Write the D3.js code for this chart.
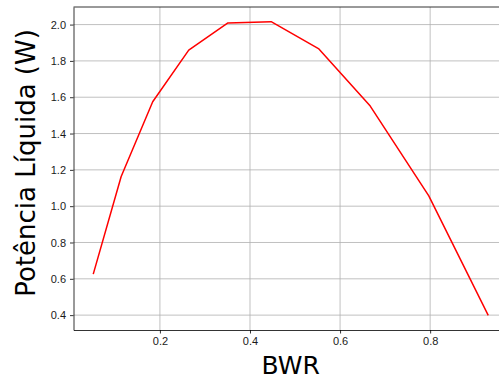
<!DOCTYPE html>
<html>
<head>
<meta charset="utf-8">
<script src="https://cdn.jsdelivr.net/npm/d3@7"></script>
<style>
  html, body { margin: 0; padding: 0; background: #fff; }
  svg { display: block; font-family: "DejaVu Sans", sans-serif; }
  .axis text { font-size: 11px; fill: #1a1a1a; }
  .axis path, .axis line { stroke: #000; stroke-width: 0.8; }
</style>
</head>
<body>
<div id="chart"></div>
<script>
// BWR vs net power
const bwr   = [0.052, 0.114, 0.184, 0.264, 0.351, 0.447, 0.552, 0.667, 0.797, 0.929];
const power = [0.626, 1.163, 1.575, 1.859, 2.009, 2.016, 1.868, 1.551, 1.057, 0.399];
const xTicks = [0.2, 0.4, 0.6, 0.8];
const yTicks = [0.4, 0.6, 0.8, 1.0, 1.2, 1.4, 1.6, 1.8, 2.0];

const W = 499, H = 379;
// plot area runs past the right edge of the window, as in the reference
const m = { l: 73.5, t: 7, r: 508, b: 330 };

const pad = ([a, b]) => [a - (b - a) * 0.05, b + (b - a) * 0.05];
const x = d3.scaleLinear().domain(pad(d3.extent(bwr))).range([m.l, m.r]);
const y = d3.scaleLinear().domain(pad(d3.extent(power))).range([m.b, m.t]);

const svg = d3.select('#chart').append('svg').attr('width', W).attr('height', H);

// grid
svg.append('g').selectAll('line').data(xTicks).join('line')
  .attr('x1', d => x(d)).attr('x2', d => x(d)).attr('y1', m.t).attr('y2', m.b)
  .attr('stroke', '#b0b0b0').attr('stroke-width', 0.8);
svg.append('g').selectAll('line').data(yTicks).join('line')
  .attr('x1', m.l).attr('x2', m.r).attr('y1', d => y(d)).attr('y2', d => y(d))
  .attr('stroke', '#b0b0b0').attr('stroke-width', 0.8);

// data line
svg.append('path').datum(bwr.map((v, i) => [v, power[i]]))
  .attr('fill', 'none').attr('stroke', '#ff0000').attr('stroke-width', 1.5)
  .attr('stroke-linejoin', 'round')
  .attr('d', d3.line().x(d => x(d[0])).y(d => y(d[1])));

// axes
svg.append('g').attr('class', 'axis').attr('transform', `translate(0,${m.b})`)
  .call(d3.axisBottom(x).tickValues(xTicks).tickFormat(d3.format('.1f')).tickSize(3.5).tickSizeOuter(0).tickPadding(4));
svg.append('g').attr('class', 'axis').attr('transform', `translate(${m.l},0)`)
  .call(d3.axisLeft(y).tickValues(yTicks).tickFormat(d3.format('.1f')).tickSize(3.5).tickSizeOuter(0).tickPadding(4));
// top/right spines
svg.append('line').attr('x1', m.l).attr('x2', m.r).attr('y1', m.t).attr('y2', m.t)
  .attr('stroke', '#000').attr('stroke-width', 0.8);
svg.append('line').attr('x1', m.r).attr('x2', m.r).attr('y1', m.t).attr('y2', m.b)
  .attr('stroke', '#000').attr('stroke-width', 0.8);

// axis titles
svg.append('text').attr('x', (m.l + m.r) / 2).attr('y', 374).attr('text-anchor', 'middle')
  .attr('font-size', 25).attr('fill', '#000').text('BWR');
svg.append('text').attr('transform', `translate(35,163) rotate(-90)`)
  .attr('text-anchor', 'middle').attr('font-size', 26).attr('fill', '#000').text('Potência Líquida (W)');
</script>
</body>
</html>
